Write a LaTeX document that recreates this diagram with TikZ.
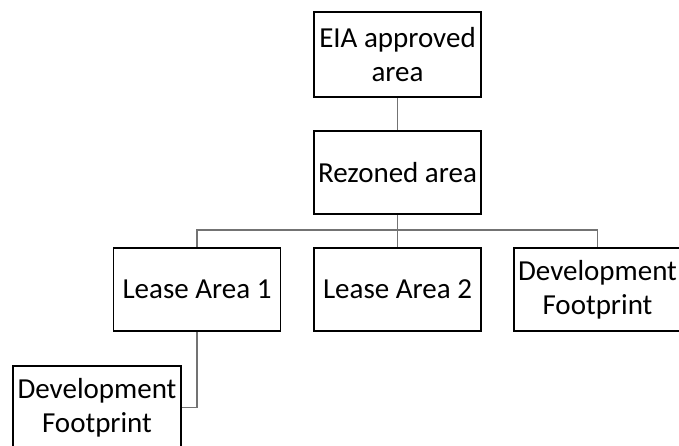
\documentclass[tikz,border=0pt]{standalone}
\usepackage{fontspec}
\setmainfont{Carlito}
\usepackage{tikz}

\tikzset{
    areabox/.style={draw=black, line width=1.6pt, fill=white, rectangle, inner sep=0pt,
        minimum width=167pt, minimum height=83pt, align=center,
        font=\fontsize{29}{34}\selectfont},
    treeline/.style={draw=black!55, line width=1.3pt}
}

\begin{document}
\begin{tikzpicture}[x=1pt, y=1pt]
                \useasboundingbox (0,0) rectangle (679,-446);
                \clip (0,0) rectangle (679,-446);
                % top of the tree
                \node[areabox, minimum height=85pt] (eia) at (397.5,-54.5) {EIA approved\\area};
                \node[areabox] (rezoned) at (397.5,-172.5) {Rezoned area};
                % second level
                \node[areabox] (lease1) at (197,-289.5) {Lease Area 1};
                \node[areabox] (lease2) at (397.5,-289.5) {Lease Area 2};
                \node[areabox] (devfoot) at (597.5,-289.5) {Development\\Footprint};
                \node[areabox, minimum width=168pt] (devfootlow) at (97,-407.5) {Development\\Footprint};
                \coordinate (bus) at (397.5,-230);
                % connectors
                \draw[treeline] (eia) -- (rezoned);
                \draw[treeline] (rezoned) -- (lease2);
                \draw[treeline] (lease1.north) |- (bus) -| (devfoot.north);
                \draw[treeline] (lease1.south) |- (devfootlow.east);
            \end{tikzpicture}
\end{document}
